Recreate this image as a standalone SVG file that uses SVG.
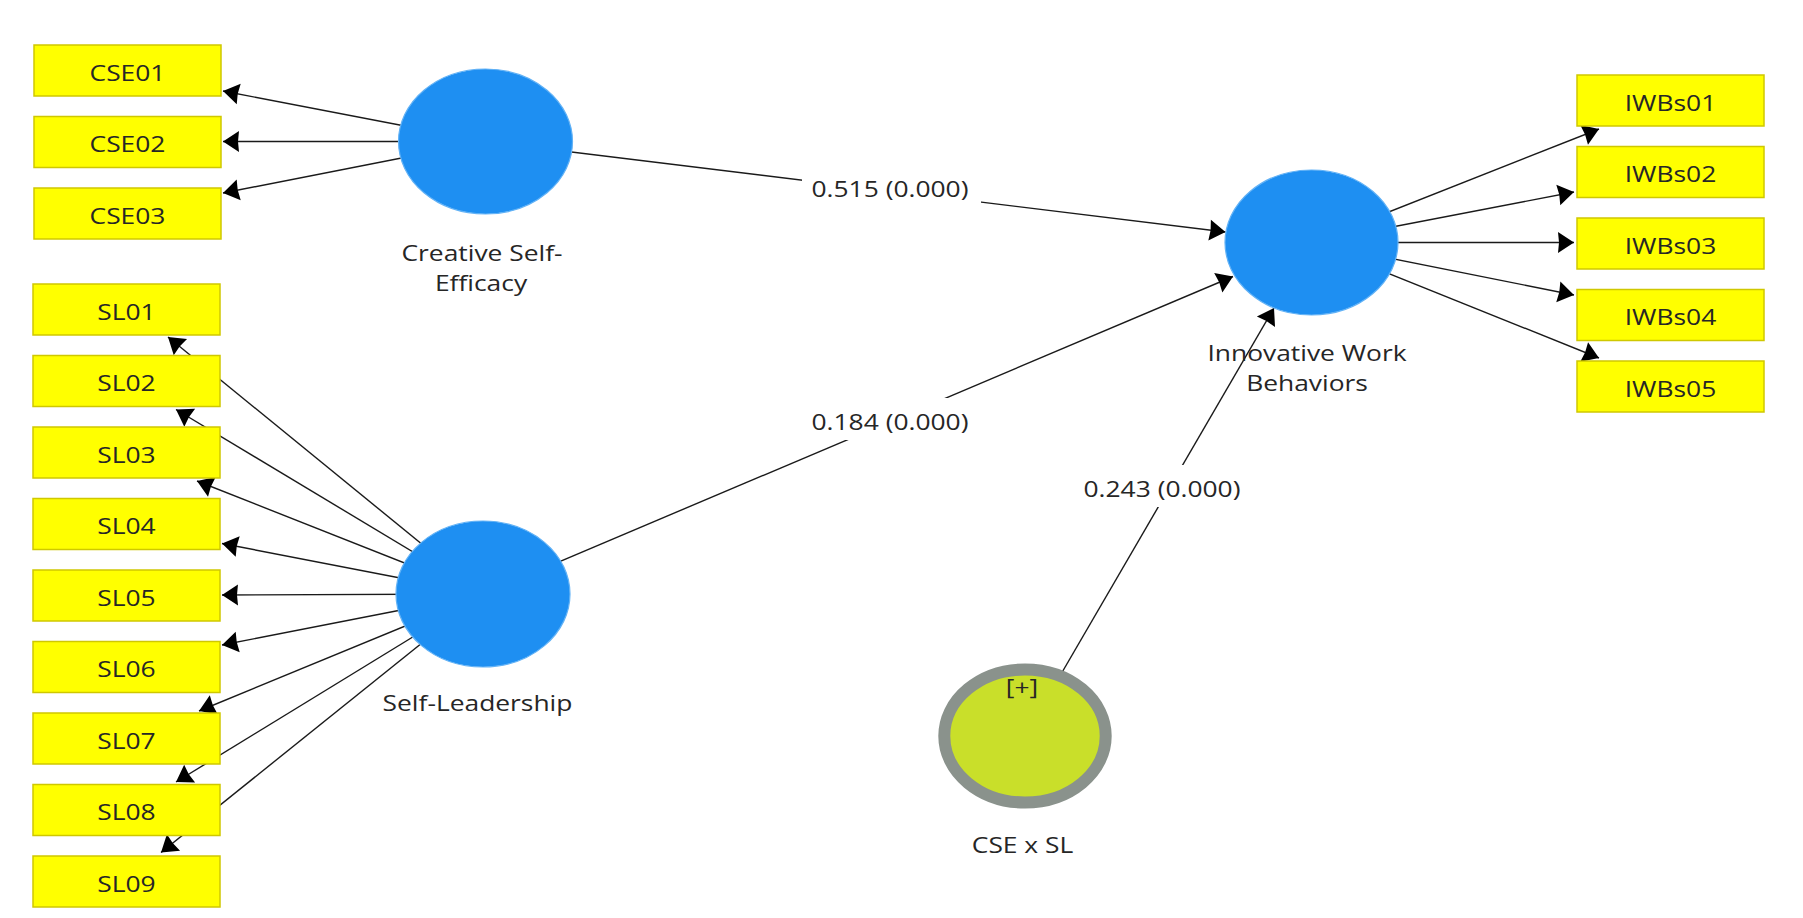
<svg xmlns="http://www.w3.org/2000/svg" width="1803" height="918" viewBox="0 0 1803 918">
<defs>
<style>
.t{font-family:"Open Sans","Noto Sans","DejaVu Sans",sans-serif;font-size:22px;fill:#262626;text-anchor:middle}
.ind{fill:#FFFF00;stroke:#CFC800;stroke-width:1.5}
.lv{fill:#1E8FF2;stroke:#62B2F6;stroke-width:1.2}
.c{stroke:#1a1a1a;stroke-width:1.4;fill:none;marker-end:url(#arr)}
.lb{fill:#ffffff}
</style>
<marker id="arr" viewBox="-18 -12 19 24" refX="0" refY="0" markerWidth="19" markerHeight="24" markerUnits="userSpaceOnUse" orient="auto">
<path d="M0,0 L-16,-10.5 L-15,0 L-16,10.5 Z" fill="#000"/>
</marker>
</defs>
<rect width="1803" height="918" fill="#ffffff"/>
<g id="connectors">
<line class="c" x1="485.5" y1="141.5" x2="223" y2="91"/>
<line class="c" x1="485.5" y1="141.5" x2="223" y2="141.5"/>
<line class="c" x1="485.5" y1="141.5" x2="223" y2="193"/>
<line class="c" x1="483" y1="594" x2="168" y2="337"/>
<line class="c" x1="483" y1="594" x2="176" y2="409.5"/>
<line class="c" x1="483" y1="594" x2="197" y2="481"/>
<line class="c" x1="483" y1="594" x2="222" y2="543.5"/>
<line class="c" x1="483" y1="594" x2="222" y2="595"/>
<line class="c" x1="483" y1="594" x2="222" y2="645"/>
<line class="c" x1="483" y1="594" x2="199" y2="711"/>
<line class="c" x1="483" y1="594" x2="176" y2="782"/>
<line class="c" x1="483" y1="594" x2="161" y2="852.5"/>
<line class="c" x1="1311.5" y1="242.5" x2="1599" y2="129"/>
<line class="c" x1="1311.5" y1="242.5" x2="1574" y2="192"/>
<line class="c" x1="1311.5" y1="242.5" x2="1574" y2="242.5"/>
<line class="c" x1="1311.5" y1="242.5" x2="1574" y2="295"/>
<line class="c" x1="1311.5" y1="242.5" x2="1599" y2="358"/>
<line class="c" x1="485.5" y1="141.5" x2="1225.5" y2="232"/>
<line class="c" x1="483" y1="594" x2="1233" y2="276.5"/>
<line class="c" x1="1025" y1="736" x2="1274" y2="308"/>
<rect class="lb" x="802" y="169" width="179" height="40"/>
<text class="t" transform="translate(890,196.5) scale(1.2,1)">0.515 (0.000)</text>
<rect class="lb" x="801" y="398" width="179" height="42"/>
<text class="t" transform="translate(890,430) scale(1.2,1)">0.184 (0.000)</text>
<rect class="lb" x="1073" y="465" width="179" height="42"/>
<text class="t" transform="translate(1162,496.5) scale(1.2,1)">0.243 (0.000)</text>
</g>
<g id="CSE01"><rect class="ind" x="34" y="45" width="187" height="51"/><text class="t" transform="translate(127.5,80.5) scale(1.2,1)">CSE01</text></g>
<g id="CSE02"><rect class="ind" x="34" y="116.5" width="187" height="51"/><text class="t" transform="translate(127.5,152) scale(1.2,1)">CSE02</text></g>
<g id="CSE03"><rect class="ind" x="34" y="188" width="187" height="51"/><text class="t" transform="translate(127.5,223.5) scale(1.2,1)">CSE03</text></g>
<g id="SL01"><rect class="ind" x="33" y="284" width="187" height="51"/><text class="t" transform="translate(126.5,319.5) scale(1.2,1)">SL01</text></g>
<g id="SL02"><rect class="ind" x="33" y="355.5" width="187" height="51"/><text class="t" transform="translate(126.5,391) scale(1.2,1)">SL02</text></g>
<g id="SL03"><rect class="ind" x="33" y="427" width="187" height="51"/><text class="t" transform="translate(126.5,462.5) scale(1.2,1)">SL03</text></g>
<g id="SL04"><rect class="ind" x="33" y="498.5" width="187" height="51"/><text class="t" transform="translate(126.5,534) scale(1.2,1)">SL04</text></g>
<g id="SL05"><rect class="ind" x="33" y="570" width="187" height="51"/><text class="t" transform="translate(126.5,605.5) scale(1.2,1)">SL05</text></g>
<g id="SL06"><rect class="ind" x="33" y="641.5" width="187" height="51"/><text class="t" transform="translate(126.5,677) scale(1.2,1)">SL06</text></g>
<g id="SL07"><rect class="ind" x="33" y="713" width="187" height="51"/><text class="t" transform="translate(126.5,748.5) scale(1.2,1)">SL07</text></g>
<g id="SL08"><rect class="ind" x="33" y="784.5" width="187" height="51"/><text class="t" transform="translate(126.5,820) scale(1.2,1)">SL08</text></g>
<g id="SL09"><rect class="ind" x="33" y="856" width="187" height="51"/><text class="t" transform="translate(126.5,891.5) scale(1.2,1)">SL09</text></g>
<g id="IWBs01"><rect class="ind" x="1577" y="75" width="187" height="51"/><text class="t" transform="translate(1670.5,110.5) scale(1.2,1)">IWBs01</text></g>
<g id="IWBs02"><rect class="ind" x="1577" y="146.5" width="187" height="51"/><text class="t" transform="translate(1670.5,182) scale(1.2,1)">IWBs02</text></g>
<g id="IWBs03"><rect class="ind" x="1577" y="218" width="187" height="51"/><text class="t" transform="translate(1670.5,253.5) scale(1.2,1)">IWBs03</text></g>
<g id="IWBs04"><rect class="ind" x="1577" y="289.5" width="187" height="51"/><text class="t" transform="translate(1670.5,325) scale(1.2,1)">IWBs04</text></g>
<g id="IWBs05"><rect class="ind" x="1577" y="361" width="187" height="51"/><text class="t" transform="translate(1670.5,396.5) scale(1.2,1)">IWBs05</text></g>
<g id="CSE">
<ellipse class="lv" cx="485.5" cy="141.5" rx="87" ry="72.5"/>
<text class="t" transform="translate(482,260.5) scale(1.2,1)">Creative Self-</text>
<text class="t" transform="translate(481,290.5) scale(1.2,1)">Efficacy</text>
</g>
<g id="SL">
<ellipse class="lv" cx="483" cy="594" rx="87" ry="73"/>
<text class="t" transform="translate(477.5,710.5) scale(1.2,1)">Self-Leadership</text>
</g>
<g id="IWB">
<ellipse class="lv" cx="1311.5" cy="242.5" rx="86.5" ry="72.5"/>
<text class="t" transform="translate(1307,360.5) scale(1.2,1)">Innovative Work</text>
<text class="t" transform="translate(1307,390.5) scale(1.2,1)">Behaviors</text>
</g>
<g id="CSExSL">
<ellipse cx="1025" cy="736" rx="80.7" ry="66.5" fill="#C9DF2A" stroke="#8A928C" stroke-width="12"/>
<text class="t" transform="translate(1022,695) scale(1.2,1)">[+]</text>
<text class="t" transform="translate(1022.5,853) scale(1.2,1)">CSE x SL</text>
</g>
</svg>
